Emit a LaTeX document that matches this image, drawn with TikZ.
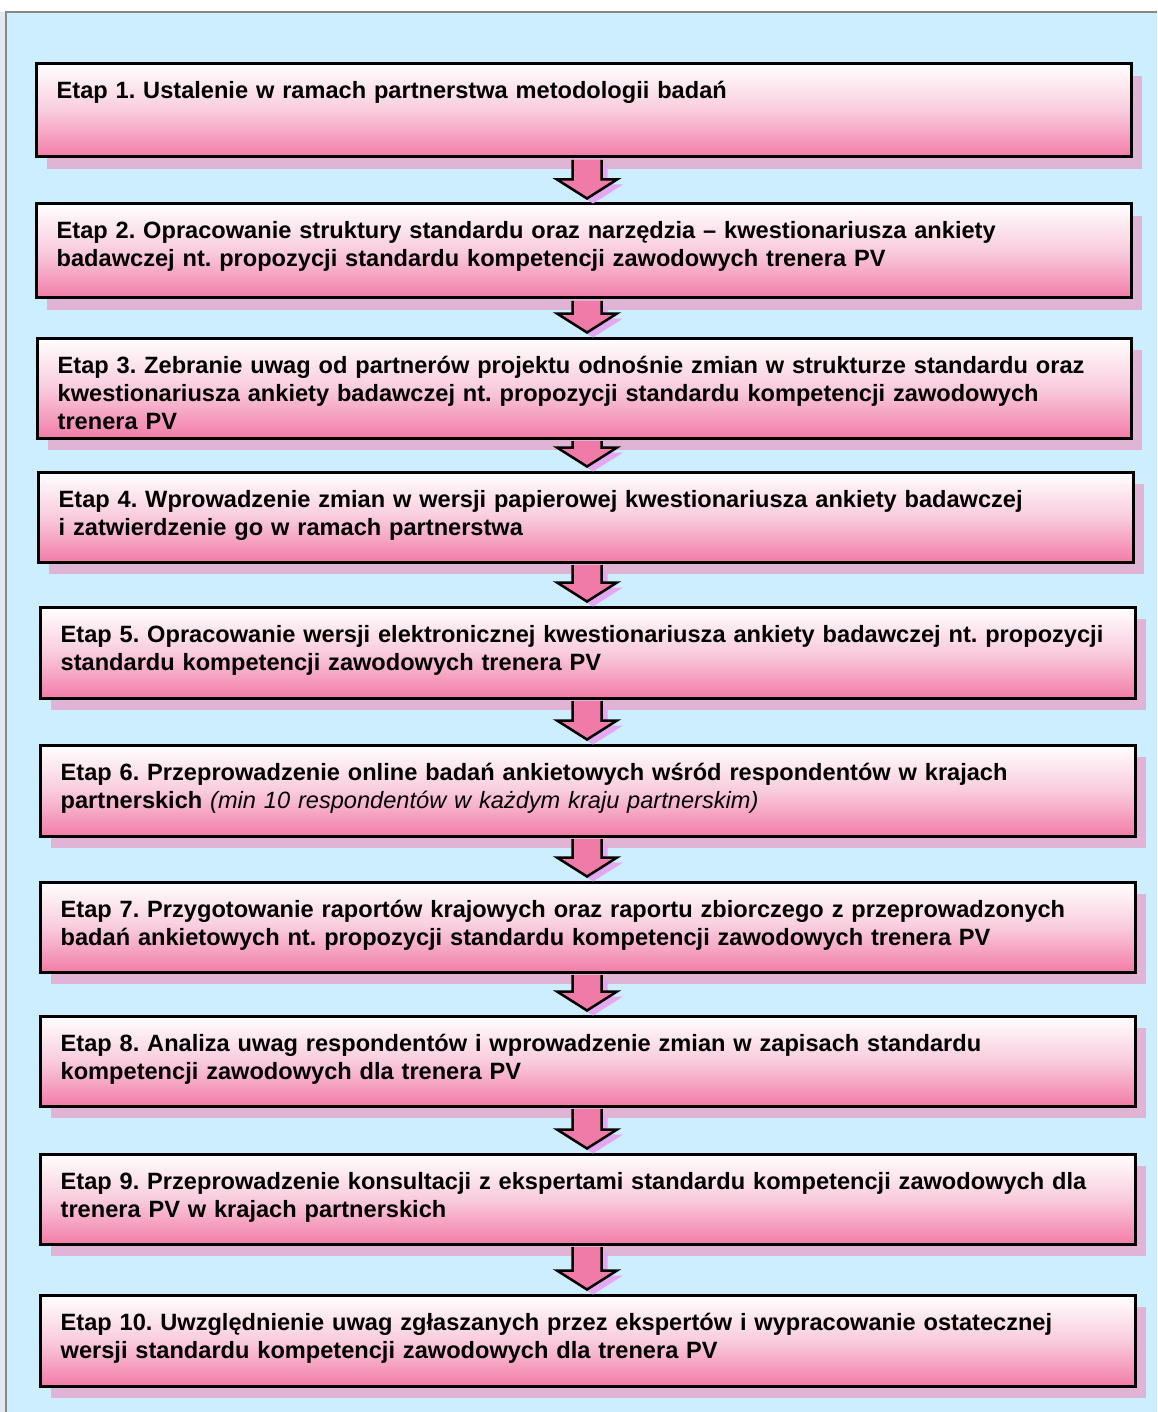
\documentclass[tikz,border=0pt]{standalone}
\usepackage{fontspec}
\setmainfont{Liberation Sans}
\usetikzlibrary{calc,fit}
\frenchspacing

\definecolor{panelblue}{RGB}{204,238,255}
\definecolor{panelline}{RGB}{136,136,136}
\definecolor{stripgray}{RGB}{226,233,240}
\definecolor{boxpink}{RGB}{242,124,168}
\definecolor{boxmid}{RGB}{249,204,221}
\definecolor{boxshadow}{RGB}{224,180,212}
\definecolor{arrowpink}{RGB}{240,122,168}
\definecolor{arrowshadow}{RGB}{228,168,242}

\tikzset{
  stepbox/.style={draw=black, line width=3pt, inner sep=0pt,
    top color=white, bottom color=boxpink, middle color=boxmid},
  boxshade/.style={fill=boxshadow},
  steptext/.style={inner sep=0pt, text width=1090pt, align=left,
    font=\fontsize{23.6}{28}\selectfont\bfseries, text=black},
  arrowbody/.style={fill=arrowpink, draw=black, line width=2.5pt, line join=miter},
  arrowshade/.style={fill=arrowshadow},
}

% one stage: name, left, top, right, bottom, text
\newcommand\stagebox[6]{%
  \fill[boxshade] (#2+11,#3+12) rectangle (#4+11,#5+12);
  \node[stepbox, fit={(#2,#3) (#4,#5)}] (#1) {};
  \node[steptext, anchor=base west] (#1t) at ([xshift=22pt,yshift=-36.5pt]#1.north west) {#6};
}

% block arrow from the bottom of one stage to the top of the next
\newcommand\flowarrow[2]{%
  \path let \p1=(#1.south), \p2=(#2.north) in
    [arrowshade, xshift=6pt, yshift=-5pt]
    (572.5pt,\y1-1.5pt) -- (572.5pt,\y2+23pt) -- (557pt,\y2+23pt)
    -- (587pt,\y2+4pt) -- (617pt,\y2+23pt) -- (601.5pt,\y2+23pt)
    -- (601.5pt,\y1-1.5pt) -- cycle;
  \filldraw let \p1=(#1.south), \p2=(#2.north) in
    [arrowbody]
    (572.5pt,\y1-1.5pt) -- (572.5pt,\y2+23pt) -- (557pt,\y2+23pt)
    -- (587pt,\y2+4pt) -- (617pt,\y2+23pt) -- (601.5pt,\y2+23pt)
    -- (601.5pt,\y1-1.5pt);
}

\begin{document}
\begin{tikzpicture}[x=1pt, y=-1pt]
  \useasboundingbox (0,0) rectangle (1157,1412);

  % panel behind the flow
  \fill[white] (0,0) rectangle (1157,1412);
  \fill[stripgray] (0,12) rectangle (5,1412);
  \fill[panelblue] (6,12) rectangle (1157,1412);
  \draw[panelline, line width=2pt] (6,1412) -- (6,12) -- (1157,12);

  \stagebox{s1}{36}{64}{1131}{157}{Etap 1. Ustalenie w ramach partnerstwa metodologii badań}
  \stagebox{s2}{36}{204}{1131}{298}{Etap 2. Opracowanie struktury standardu oraz narzędzia – kwestionariusza ankiety\\badawczej nt. propozycji standardu kompetencji zawodowych trenera PV}
  \stagebox{s3}{37}{338}{1131}{438}{Etap 3. Zebranie uwag od partnerów projektu odnośnie zmian w strukturze standardu oraz\\kwestionariusza ankiety badawczej nt. propozycji standardu kompetencji zawodowych\\trenera PV}
  \stagebox{s4}{38}{472}{1133}{562}{Etap 4. Wprowadzenie zmian w wersji papierowej kwestionariusza ankiety badawczej\\i zatwierdzenie go w ramach partnerstwa}
  \stagebox{s5}{40}{607}{1135}{698}{Etap 5. Opracowanie wersji elektronicznej kwestionariusza ankiety badawczej nt. propozycji\\standardu kompetencji zawodowych trenera PV}
  \stagebox{s6}{40}{745}{1135}{836}{Etap 6. Przeprowadzenie online badań ankietowych wśród respondentów w krajach\\partnerskich {\mdseries\itshape (min 10 respondentów w każdym kraju partnerskim)}}
  \stagebox{s7}{40}{882}{1135}{972}{Etap 7. Przygotowanie raportów krajowych oraz raportu zbiorczego z przeprowadzonych\\badań ankietowych nt. propozycji standardu kompetencji zawodowych trenera PV}
  \stagebox{s8}{40}{1016}{1135}{1106}{Etap 8. Analiza uwag respondentów i wprowadzenie zmian w zapisach standardu\\kompetencji zawodowych dla trenera PV}
  \stagebox{s9}{40}{1154}{1135}{1244}{Etap 9. Przeprowadzenie konsultacji z ekspertami standardu kompetencji zawodowych dla\\trenera PV w krajach partnerskich}
  \stagebox{s10}{40}{1295}{1135}{1386}{Etap 10. Uwzględnienie uwag zgłaszanych przez ekspertów i wypracowanie ostatecznej\\wersji standardu kompetencji zawodowych dla trenera PV}

  \flowarrow{s1}{s2}
  \flowarrow{s2}{s3}
  \flowarrow{s3}{s4}
  \flowarrow{s4}{s5}
  \flowarrow{s5}{s6}
  \flowarrow{s6}{s7}
  \flowarrow{s7}{s8}
  \flowarrow{s8}{s9}
  \flowarrow{s9}{s10}
\end{tikzpicture}
\end{document}
